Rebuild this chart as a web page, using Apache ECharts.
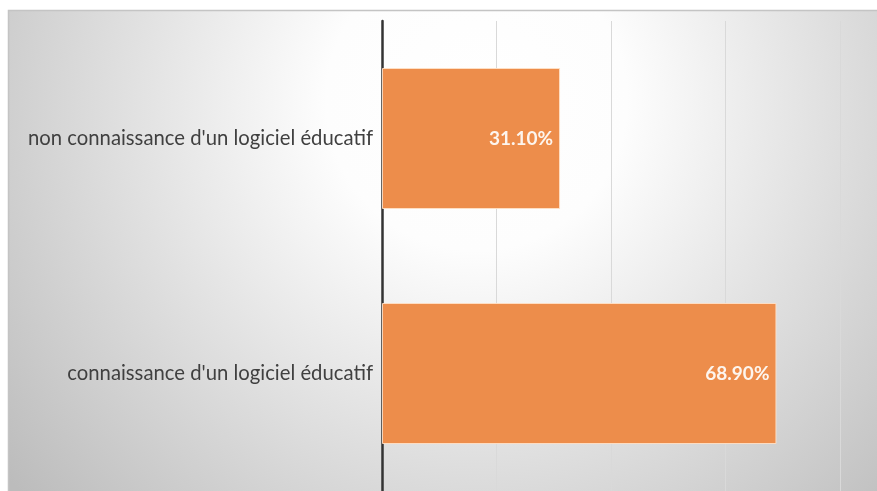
<!DOCTYPE html>
<html>
<head>
<meta charset="utf-8">
<script src="https://cdn.jsdelivr.net/npm/echarts@6/dist/echarts.min.js"></script>
<style>
  html, body { margin: 0; padding: 0; background: #fff; }
  #chart { width: 877px; height: 491px; }
</style>
</head>
<body>
<div id="chart"></div>
<script>
// bottom to top
const categories = ["connaissance d'un logiciel éducatif", "non connaissance d'un logiciel éducatif"]
const percentages = [68.9, 31.1]
const xTicks = [0, 20, 40, 60, 80]

const chart = echarts.init(document.getElementById('chart'))

chart.setOption({
  backgroundColor: '#fff',
  animation: false,
  // fond du cadre avec dégradé radial
  graphic: [
    {
      type: 'rect',
      z: -10,
      silent: true,
      shape: { x: 8.5, y: 10.5, width: 900, height: 500 },
      style: {
        stroke: '#c4c4c4',
        lineWidth: 1.5,
        fill: new echarts.graphic.RadialGradient(0.52, 0.18, 1.2, [
          { offset: 0, color: '#ffffff' },
          { offset: 0.25, color: '#fdfdfd' },
          { offset: 1, color: '#bcbcbc' },
        ]),
      },
    },
  ],
  grid: {
    left: 382,
    right: 37,
    top: 21,
    bottom: -1,
    containLabel: false,
  },
  xAxis: {
    type: 'value',
    min: xTicks[0],
    max: xTicks[xTicks.length - 1],
    interval: 20,
    axisLabel: { show: false },
    axisLine: { show: false },
    axisTick: { show: false },
    splitLine: {
      show: true,
      lineStyle: { color: '#d9d9d9', width: 1 },
    },
  },
  yAxis: {
    type: 'category',
    data: categories,
    axisTick: { show: false },
    axisLine: {
      show: true,
      lineStyle: { color: '#333', width: 2.5 },
    },
    axisLabel: {
      color: '#404040',
      fontFamily: 'Lato',
      fontSize: 20.3,
      margin: 9,
    },
  },
  series: [
    {
      type: 'bar',
      data: percentages,
      barWidth: '60%',
      itemStyle: {
        color: '#ed8d4b',
        borderColor: 'rgba(255,225,200,0.9)',
        borderWidth: 1,
      },
      label: {
        show: true,
        position: 'insideRight',
        distance: 7,
        color: '#fdf5ee',
        fontFamily: 'Lato',
        fontWeight: 'bold',
        fontSize: 19,
        formatter: (p) => p.value.toFixed(2) + '%',
      },
    },
  ],
})
</script>
</body>
</html>
